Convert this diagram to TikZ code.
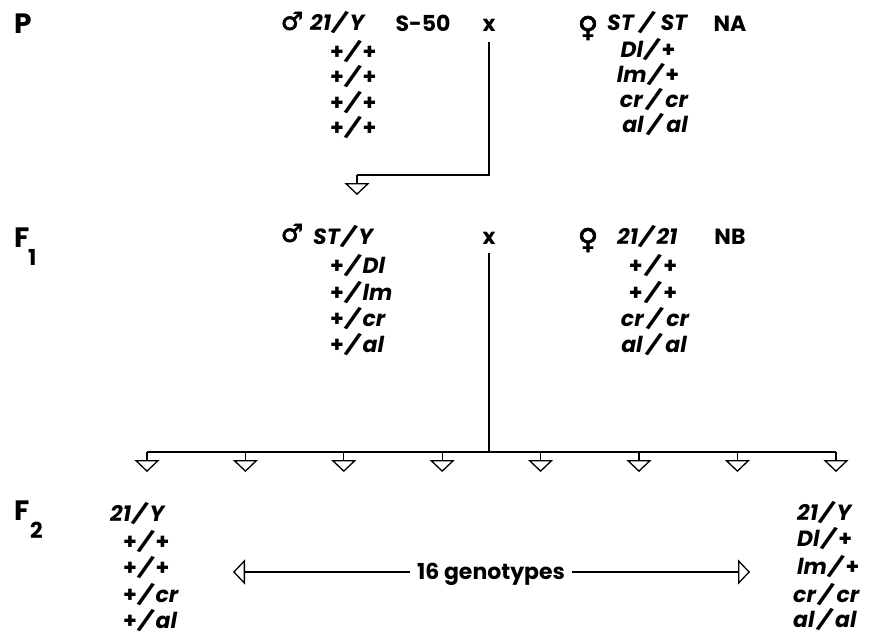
\documentclass[tikz,border=0pt]{standalone}
\usepackage{fontspec}
\usepackage{graphicx}
\setmainfont{Poppins}
\newfontfamily\symfont{DejaVu Sans}[FakeBold=2.5]
\usetikzlibrary{arrows.meta}
% a wild-type allele is an upright plus sign
\newcommand\wt{\textup{+}}
% the long, strongly slanted slash between two alleles
\newcommand\allsl{\smash{\raisebox{-1pt}{\rotatebox[origin=c]{-22}{\upshape\fontsize{22}{22}\selectfont/}}}}
% allele pair: left allele, slash, right allele
\newcommand\gt[3][0pt]{#2\kern#1\allsl\kern#1#3}
\begin{document}
\begin{tikzpicture}[x=1pt,y=-1pt,
  genlab/.style={font=\fontsize{28}{28}\selectfont\bfseries, inner sep=0, anchor=base west},
  sublab/.style={font=\fontsize{22}{22}\selectfont\bfseries, inner sep=0, anchor=base west},
  txt/.style={font=\fontsize{22}{22}\selectfont\bfseries, inner sep=0, anchor=base},
  gene/.style={font=\fontsize{22}{22}\selectfont\bfseries\itshape, inner sep=0, anchor=base west},
  genec/.style={font=\fontsize{22}{22}\selectfont\bfseries\itshape, inner sep=0, anchor=base},
  sex/.style={font=\fontsize{25}{25}\selectfont\symfont, inner sep=0},
  link/.style={line width=1.3pt},
  tip/.style={-{Triangle[open,length=12pt,width=25pt,line width=1.3pt]}},
]
\useasboundingbox (0,0) rectangle (889,637);

% generation labels
\node[genlab] (P) at (14,33) {P};
\node[genlab] (F1) at (14,247) {F};
\node[sublab] (F1s) at (28,265) {1};
\node[genlab] (F2) at (14,520) {F};
\node[sublab] (F2s) at (30,538) {2};

% parental cross
\node[sex] (mP) at (292,21) {♂};
\node[gene] (mP0) at (310,30) {\gt{21}{Y}};
\node[txt] (mPst) at (423,31) {S-50};
\node[txt] (xP) at (489,31) {x};
\node[gene] (mP1) at (330,59) {\gt{\wt}{\wt}};
\node[gene] (mP2) at (330,84) {\gt{\wt}{\wt}};
\node[gene] (mP3) at (330,110) {\gt{\wt}{\wt}};
\node[gene] (mP4) at (330,135) {\gt{\wt}{\wt}};

\node[sex, font=\fontsize{28}{28}\selectfont\symfont] (fP) at (588,28) {♀};
\node[gene] (fP0) at (607,30) {\gt[4pt]{ST}{ST}};
\node[txt] (fPst) at (730,31) {NA};
\node[genec] (fP1) at (648,57) {\gt{Dl}{\wt}};
\node[genec] (fP2) at (648,82) {\gt{lm}{\wt}};
\node[genec] (fP3) at (654,107) {\gt[2pt]{cr}{cr}};
\node[genec] (fP4) at (655,132) {\gt[2pt]{al}{al}};

% F1 cross
\node[sex] (m1) at (292,233) {♂};
\node[gene] (m10) at (313,244) {\gt{ST}{Y}};
\node[txt] (x1) at (489,244) {x};
\node[gene] (m11) at (330,273) {\gt{\wt}{Dl}};
\node[gene] (m12) at (330,300) {\gt{\wt}{lm}};
\node[gene] (m13) at (330,326) {\gt{\wt}{cr}};
\node[gene] (m14) at (330,352) {\gt{\wt}{al}};

\node[sex, font=\fontsize{28}{28}\selectfont\symfont] (f1) at (588,240) {♀};
\node[gene] (f10) at (617,244) {\gt{21}{21}};
\node[txt] (f1st) at (730,244) {NB};
\node[genec] (f11) at (653,273) {\gt[1pt]{\wt}{\wt}};
\node[genec] (f12) at (653,300) {\gt[1pt]{\wt}{\wt}};
\node[genec] (f13) at (655,326) {\gt[2pt]{cr}{cr}};
\node[genec] (f14) at (654,352) {\gt[2pt]{al}{al}};

% F2 extremes
\node[gene] (a0) at (110,521) {\gt{21}{Y}};
\node[gene] (a1) at (123,549) {\gt{\wt}{\wt}};
\node[gene] (a2) at (123,575) {\gt{\wt}{\wt}};
\node[gene] (a3) at (123,602) {\gt{\wt}{cr}};
\node[gene] (a4) at (123,628) {\gt{\wt}{al}};

\node[gene] (b0) at (797,520) {\gt{21}{Y}};
\node[gene] (b1) at (797,546) {\gt{Dl}{\wt}};
\node[gene] (b2) at (797,574) {\gt{lm}{\wt}};
\node[gene] (b3) at (793,602) {\gt[1pt]{cr}{cr}};
\node[gene] (b4) at (793,627) {\gt[1pt]{al}{al}};

\node[txt, anchor=base, inner xsep=7pt] (gen) at (491,579) {16 genotypes};

% line of descent from the parental cross
\coordinate (xPfoot) at (489,42);
\coordinate (bendP) at (357,175);
\coordinate (tipP) at (357,195);
\draw[link] (xPfoot) |- (bendP);
\draw[link,tip] (bendP) -- (tipP);

% line of descent from the F1 cross to the F2 offspring
\coordinate (x1foot) at (489,253);
\coordinate (bar) at (489,452);
\coordinate (barL) at (147,452);
\coordinate (barR) at (836,452);
\draw[link] (x1foot) -- (bar);
\draw[link] (barL) -- (barR);
\foreach \i/\xx in {1/147,2/245.4,3/343.8,4/442.2,5/540.6,6/639,7/737.4,8/836}{
  \coordinate (s\i) at (\xx,452);
  \coordinate (t\i) at (\xx,472);
  \draw[link,tip] (s\i) -- (t\i);
}

% range of the F2 genotypes
\coordinate (genL) at (233,572);
\coordinate (genR) at (750,572);
\draw[link,tip] (gen.west |- genL) -- (genL);
\draw[link,tip] (gen.east |- genR) -- (genR);
\end{tikzpicture}
\end{document}
